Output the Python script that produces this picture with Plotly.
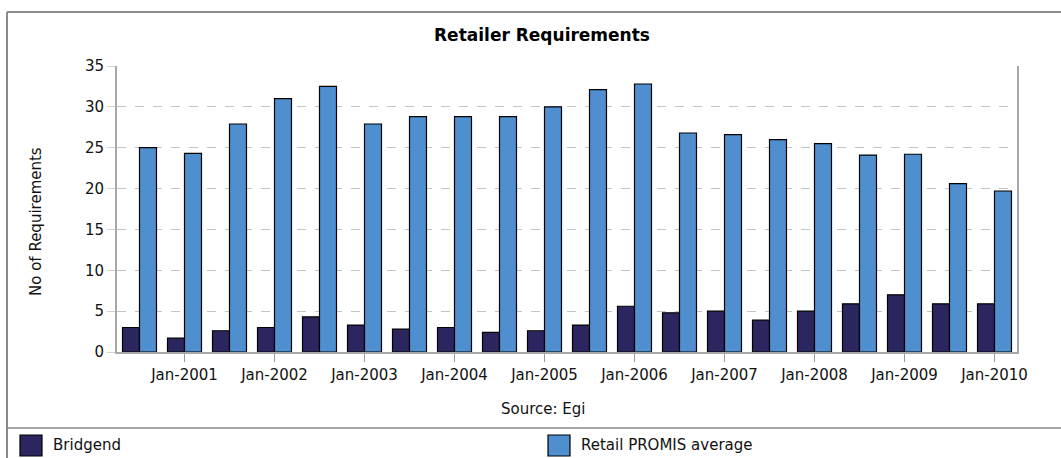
import plotly.graph_objects as go

# ---- data ----
periods = ["Jul-2000", "Jan-2001", "Jul-2001", "Jan-2002", "Jul-2002", "Jan-2003",
           "Jul-2003", "Jan-2004", "Jul-2004", "Jan-2005", "Jul-2005", "Jan-2006",
           "Jul-2006", "Jan-2007", "Jul-2007", "Jan-2008", "Jul-2008", "Jan-2009",
           "Jul-2009", "Jan-2010"]
bridgend = [3.0, 1.7, 2.6, 3.0, 4.3, 3.3, 2.8, 3.0, 2.4, 2.6,
            3.3, 5.6, 4.8, 5.0, 3.9, 5.0, 5.9, 7.0, 5.9, 5.9]
retail_avg = [25.0, 24.3, 27.9, 31.0, 32.5, 27.9, 28.8, 28.8, 28.8, 30.0,
              32.1, 32.8, 26.8, 26.6, 26.0, 25.5, 24.1, 24.2, 20.6, 19.7]
tick_labels = ["Jan-2001", "Jan-2002", "Jan-2003", "Jan-2004", "Jan-2005",
               "Jan-2006", "Jan-2007", "Jan-2008", "Jan-2009", "Jan-2010"]
series_names = ["Bridgend", "Retail PROMIS average"]
series_colors = ["#2b2660", "#4f8fd0"]
y_ticks = [0, 5, 10, 15, 20, 25, 30, 35]

W, H = 1061, 458
L, R, T, B = 117, 44, 66, 106
PW, PH = W - L - R, H - T - B


def px_x(px):
    return (px - L) / PW


def px_y(py):
    return (H - B - py) / PH


FONT = "DejaVu Sans"
TXT = "#111111"

fig = go.Figure()
for name, vals, col in zip(series_names, [bridgend, retail_avg], series_colors):
    fig.add_trace(go.Bar(
        x=periods, y=vals, name=name,
        marker=dict(color=col, line=dict(color="#000000", width=1.2)),
        showlegend=False,
    ))

shapes = []
frame_col = "#8a8a8a"
# outer frame
shapes.append(dict(type="line", xref="paper", yref="paper",
                   x0=px_x(7), x1=px_x(1075), y0=px_y(12), y1=px_y(12),
                   line=dict(color=frame_col, width=2)))
shapes.append(dict(type="line", xref="paper", yref="paper",
                   x0=px_x(7), x1=px_x(7), y0=px_y(12), y1=px_y(470),
                   line=dict(color=frame_col, width=2)))
shapes.append(dict(type="line", xref="paper", yref="paper",
                   x0=px_x(7), x1=px_x(1075), y0=px_y(428), y1=px_y(428),
                   line=dict(color=frame_col, width=1.5)))

annotations = []
# legend keys
leg_x = [20, 548]
for lx, name, col in zip(leg_x, series_names, series_colors):
    shapes.append(dict(type="rect", xref="paper", yref="paper",
                       x0=px_x(lx), x1=px_x(lx + 22), y0=px_y(456), y1=px_y(435),
                       fillcolor=col, line=dict(color="#000000", width=1.2)))
    annotations.append(dict(xref="paper", yref="paper", x=px_x(lx + 31), y=px_y(445),
                            text=name, showarrow=False, xanchor="left", yanchor="middle",
                            font=dict(family=FONT, size=15, color=TXT)))

# y-axis title
annotations.append(dict(xref="paper", yref="paper", x=px_x(36), y=px_y(222),
                        text="No of Requirements", showarrow=False, textangle=-90,
                        xanchor="center", yanchor="middle",
                        font=dict(family=FONT, size=15, color=TXT)))
# source
annotations.append(dict(xref="paper", yref="paper", x=px_x(543), y=px_y(409),
                        text="Source: Egi", showarrow=False,
                        xanchor="center", yanchor="middle",
                        font=dict(family=FONT, size=15, color=TXT)))

fig.update_layout(
    width=W, height=H,
    margin=dict(l=L, r=R, t=T, b=B),
    paper_bgcolor="white", plot_bgcolor="white",
    barmode="group", bargap=0.245, bargroupgap=0,
    title=dict(text="<b>Retailer Requirements</b>", x=542 / W, xanchor="center",
               y=1 - 35 / H, yanchor="middle",
               font=dict(family=FONT, size=17, color="#000000")),
    font=dict(family=FONT, size=15, color=TXT),
    shapes=shapes, annotations=annotations,
    xaxis=dict(
        type="category", categoryorder="array", categoryarray=periods,
        range=[-0.5, len(periods) - 0.5],
        tickmode="array", tickvals=tick_labels, ticktext=tick_labels,
        ticks="outside", ticklen=8, tickcolor="#9a9a9a", tickwidth=1,
        showline=True, linecolor="#a8a8a8", linewidth=2,
        showgrid=False, tickfont=dict(family=FONT, size=15, color=TXT),
        fixedrange=True,
    ),
    yaxis=dict(
        range=[0, 35], tickmode="array", tickvals=y_ticks,
        ticks="outside", ticklen=8, tickcolor="#d0d0d0",
        showline=True, linecolor="#a8a8a8", linewidth=2, mirror=True,
        showgrid=True, gridcolor="#c4c4c4", griddash="dash", gridwidth=1.3,
        zeroline=False, tickfont=dict(family=FONT, size=15, color=TXT),
        fixedrange=True,
    ),
)

fig.write_html("out.html", config={"displayModeBar": False},
               post_script="document.body.style.margin='0px';")
